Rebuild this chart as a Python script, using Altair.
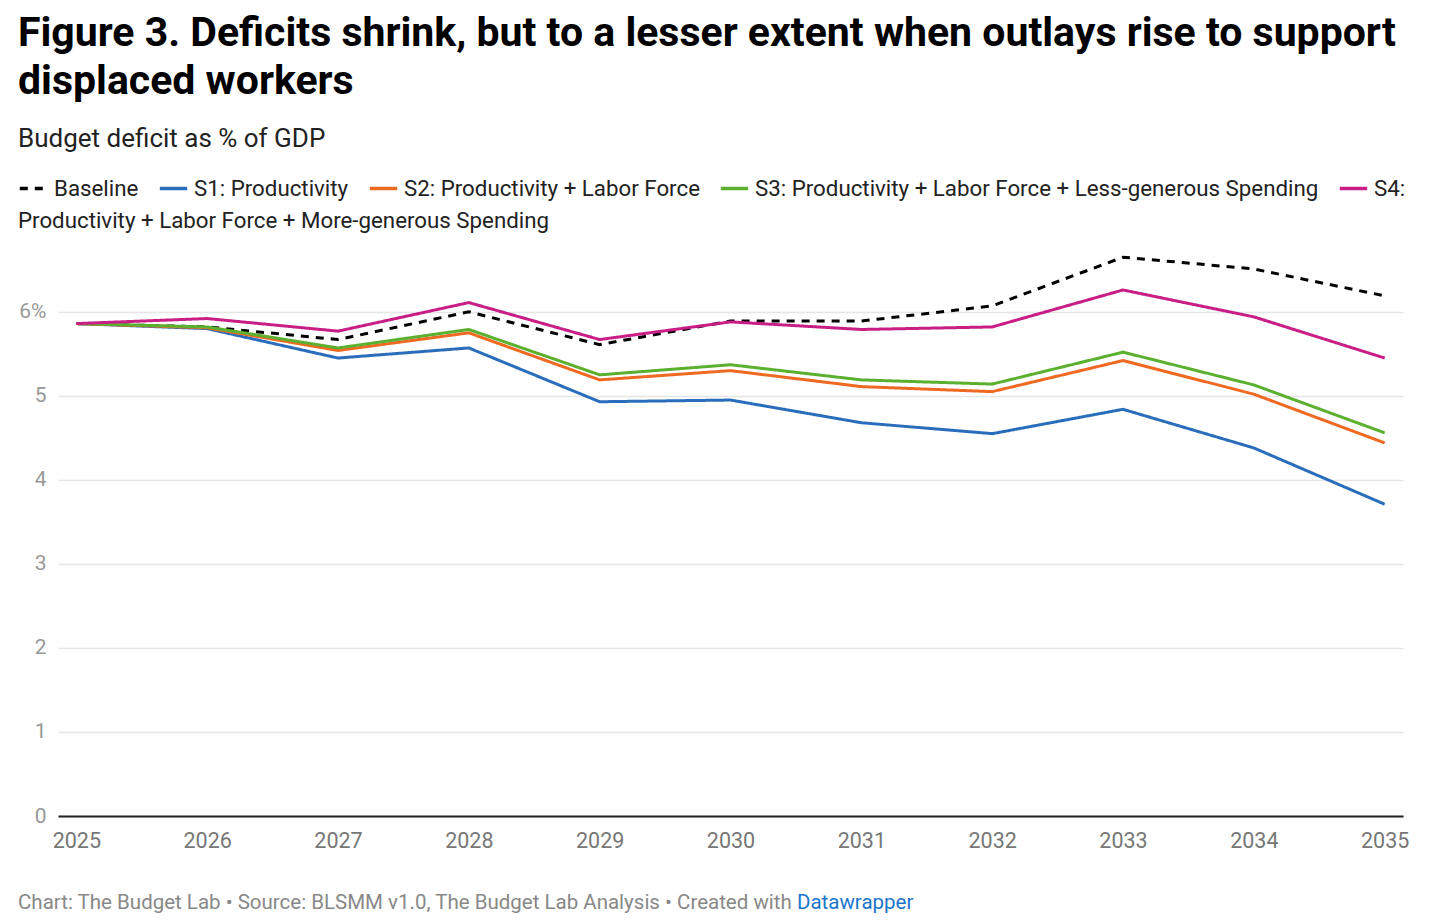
import altair as alt
import pandas as pd

years = [2025, 2026, 2027, 2028, 2029, 2030, 2031, 2032, 2033, 2034, 2035]
series_names = [
    "Baseline",
    "S1: Productivity",
    "S2: Productivity + Labor Force",
    "S3: Productivity + Labor Force + Less-generous Spending",
    "S4: Productivity + Labor Force + More-generous Spending",
]
baseline = [5.86, 5.82, 5.67, 6.00, 5.61, 5.89, 5.89, 6.07, 6.65, 6.51, 6.19]
s1 = [5.86, 5.80, 5.45, 5.57, 4.93, 4.95, 4.68, 4.55, 4.84, 4.38, 3.71]
s2 = [5.86, 5.81, 5.54, 5.75, 5.19, 5.30, 5.11, 5.05, 5.42, 5.02, 4.44]
s3 = [5.86, 5.82, 5.57, 5.79, 5.25, 5.37, 5.19, 5.14, 5.52, 5.13, 4.56]
s4 = [5.86, 5.92, 5.77, 6.11, 5.67, 5.88, 5.79, 5.82, 6.26, 5.94, 5.45]
colors = ["#000000", "#2a6ebb", "#ee6a22", "#5bb030", "#c81e85"]
dashes = [[8, 7], [1, 0], [1, 0], [1, 0], [1, 0]]

title_lines = [
    "Figure 3. Deficits shrink, but to a lesser extent when outlays rise to support",
    "displaced workers",
]
subtitle = "Budget deficit as % of GDP"
legend_wrap = "Productivity + Labor Force + More-generous Spending"
footer_gray = "Chart: The Budget Lab • Source: BLSMM v1.0, The Budget Lab Analysis • Created with"
footer_blue = "Datawrapper"

rows = []
for name, vals in zip(series_names, [baseline, s1, s2, s3, s4]):
    for y, v in zip(years, vals):
        rows.append({"year": str(y), "value": v, "series": name})
df = pd.DataFrame(rows)

FONT = "Roboto"
S4 = series_names[4]

lines = alt.Chart(df).mark_line(strokeWidth=3).encode(
    x=alt.X(
        "year:O",
        scale=alt.Scale(type="point", padding=0.14),
        axis=alt.Axis(
            title=None, labelAngle=0, ticks=False, domainColor="#222222",
            domainWidth=2, labelFontSize=21.5, labelColor="#777777",
            labelPadding=14, labelFont=FONT, grid=False,
        ),
    ),
    y=alt.Y(
        "value:Q",
        scale=alt.Scale(domain=[0, 6.7], nice=False),
        axis=alt.Axis(
            title=None, values=[0, 1, 2, 3, 4, 5, 6], ticks=False, domain=False,
            labelFontSize=21, labelColor="#999999", labelPadding=12, labelFont=FONT,
            gridColor="#e6e6e6", gridWidth=1.5,
            labelExpr="datum.value == 6 ? '6%' : datum.label",
        ),
    ),
    color=alt.Color(
        "series:N",
        sort=series_names,
        scale=alt.Scale(domain=series_names, range=colors),
        title=None,
        legend=alt.Legend(
            orient="none", direction="horizontal", columns=5,
            legendX=-40, legendY=-80, symbolType="stroke", symbolStrokeWidth=3.5,
            symbolSize=750, labelFontSize=22.3, labelFont=FONT, labelColor="#222222",
            labelLimit=800, columnPadding=13, symbolOffset=0, labelOffset=5,
            labelExpr=f"datum.label == '{S4}' ? 'S4:' : datum.label",
        ),
    ),
    strokeDash=alt.StrokeDash(
        "series:N",
        sort=series_names,
        scale=alt.Scale(domain=series_names, range=dashes),
        title=None,
    ),
)

wrap = alt.Chart(pd.DataFrame({"t": [legend_wrap]})).mark_text(
    align="left", baseline="middle", fontSize=22.3, font=FONT, color="#222222"
).encode(text="t:N", x=alt.value(-40), y=alt.value(-32))

foot1 = alt.Chart(pd.DataFrame({"t": [footer_gray]})).mark_text(
    align="left", baseline="middle", fontSize=20.5, font=FONT, color="#888888"
).encode(text="t:N", x=alt.value(-40), y=alt.value(650))

foot2 = alt.Chart(pd.DataFrame({"t": [footer_blue]})).mark_text(
    align="left", baseline="middle", fontSize=20.5, font=FONT, color="#1a75c9"
).encode(text="t:N", x=alt.value(739), y=alt.value(650))

chart = alt.layer(lines, wrap, foot1, foot2).properties(
    width=1345,
    height=563,
    padding={"left": 10, "top": 5, "right": 10, "bottom": 0},
    title=alt.TitleParams(
        text=title_lines, subtitle=subtitle, anchor="start", font=FONT,
        fontSize=41, fontWeight="bold", color="#000000", lineHeight=48,
        subtitleFont=FONT, subtitleFontSize=26, subtitleColor="#222222",
        subtitlePadding=23, offset=20,
    ),
).configure(background="white").configure_view(stroke=None)

chart.save("out.html", embed_options={"renderer": "svg", "actions": False})
